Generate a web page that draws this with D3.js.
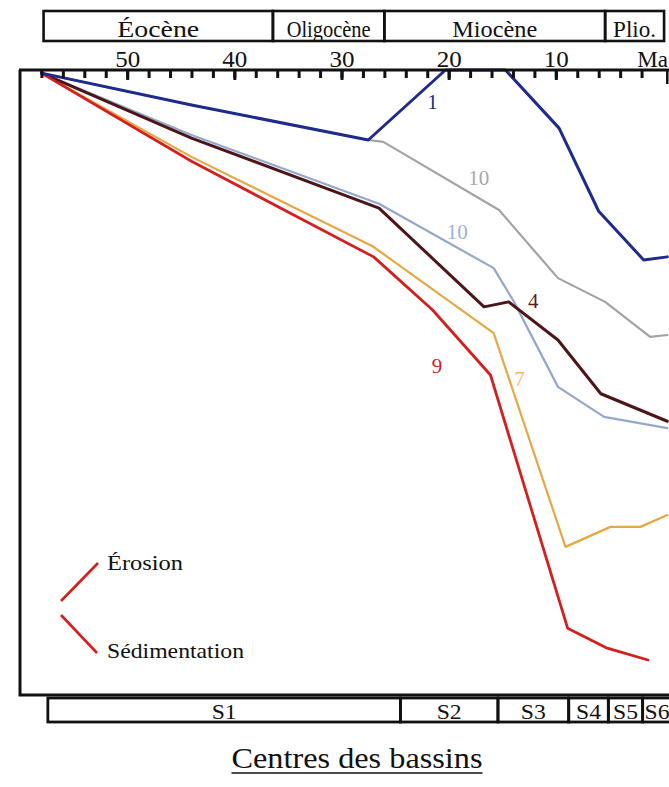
<!DOCTYPE html>
<html><head><meta charset="utf-8">
<script src="https://cdn.jsdelivr.net/npm/d3@7"></script>
<style>
html,body{margin:0;padding:0;background:#fff;}
svg{display:block;}
</style></head>
<body><svg id="c" width="669" height="787"></svg>
<script>
// ---- data (age in Ma, subsidence in relative units 0-100, downward) ----
const seriesNames = ["10a","10b","7","4","9","1"];
const ages10a = [58, 44.0, 27.5, 26.1, 15.3, 9.8, 5.4, 1.2, -0.4];
const vals10a = [0.5, 5.6, 11.2, 11.5, 22.4, 33.3, 37.1, 42.7, 42.4];
const ages10b = [58, 44.0, 26.5, 15.8, 13.9, 9.8, 5.5, -0.4];
const vals10b = [0.5, 10.4, 21.4, 31.7, 37.1, 50.7, 55.5, 57.3];
const ages7 = [58, 44.0, 27.1, 15.8, 9.1, 4.9, 2.1, -0.4];
const vals7 = [0.5, 13.9, 28.2, 42.1, 76.3, 73.1, 73.1, 71.2];
const ages4 = [58, 44.0, 26.5, 16.7, 14.4, 9.8, 5.8, -0.4];
const vals4 = [0.5, 10.9, 22.1, 37.9, 37.1, 43.2, 51.8, 56.2];
const ages9 = [58, 44.0, 27.0, 21.5, 16.1, 8.9, 5.2, 1.4];
const vals9 = [0.5, 14.6, 29.9, 38.4, 48.8, 89.3, 92.5, 94.4];
const ages1 = [58, 44.0, 27.5, 20.3, 14.7, 9.7, 6.0, 1.8, -0.4];
const vals1 = [0.5, 5.6, 11.2, 0, 0, 9.3, 22.6, 30.4, 29.9];

const labelTexts = ["1","10","10","4","9","7"];
const labelAges  = [21.5, 17.2, 19.2, 12.1, 21.1, 13.4];
const labelVals  = [5.1, 17.3, 25.9, 37.0, 47.4, 49.4];

const epochNames = ["Éocène","Oligocène","Miocène","Plio."];
const epochBounds = [57.8, 36.4, 26.0, 5.4, -0.1];
const seqNames = ["S1","S2","S3","S4","S5","S6"];
const seqBounds = [57.4, 24.5, 15.4, 8.8, 5.1, 1.9, -1.5];
const majorTicks = [50, 40, 30, 20, 10];
const minorTicks = d3.range(58, 1, -2);
const legendLabels = ["Érosion", "Sédimentation"];
const title = "Centres des bassins";

// ---- styles ----
const FONT = '"Liberation Serif", "Times New Roman", serif';
const colors = {"10a":"#a3a3a3","10b":"#93a8cc","7":"#e6a845","4":"#4d1518","9":"#d3201f","1":"#1e2b8c"};
const widths = {"10a":2.2,"10b":2.2,"7":2.2,"4":3,"9":2.8,"1":3};
const labelColors = ["#1e2b8c","#a8a8a8","#9cb0d2","#5a1a1c","#d3201f","#f0b860"];

const svg = d3.select("#c");
const x = d3.scaleLinear().domain([60, 0]).range([20, 663]);
const y = d3.scaleLinear().domain([0, 100]).range([70, 695]);
const xRight = x(-0.4);

const data = {
  "10a": d3.zip(ages10a, vals10a), "10b": d3.zip(ages10b, vals10b),
  "7": d3.zip(ages7, vals7), "4": d3.zip(ages4, vals4),
  "9": d3.zip(ages9, vals9), "1": d3.zip(ages1, vals1)
};

function txt(g, s, px, py, size, w, anchor){
  const t = g.append("text").attr("x",px).attr("y",py).style("font-family",FONT)
    .style("font-size",size+"px").attr("fill","#111").attr("text-anchor",anchor||"middle").text(s);
  if (w) t.attr("textLength",w).attr("lengthAdjust","spacingAndGlyphs");
  return t;
}

// epoch boxes (top)
const eg = svg.append("g");
const epochW = [82, 84, 85, 43];
epochNames.forEach((n,i)=>{
  const x0 = x(epochBounds[i]), x1 = x(epochBounds[i+1]);
  eg.append("rect").attr("x",x0).attr("y",11).attr("width",x1-x0).attr("height",30)
    .attr("fill","none").attr("stroke","#111").attr("stroke-width",2.6);
  txt(eg, n, (x0+x1)/2, 37, 23, epochW[i]);
});

// lines
const line = d3.line().x(d=>x(d[0])).y(d=>y(d[1]));
const lg = svg.append("g").attr("fill","none").attr("stroke-linejoin","round").attr("stroke-linecap","round");
seriesNames.forEach(s=>{
  lg.append("path").datum(data[s]).attr("d",line)
    .attr("stroke",colors[s]).attr("stroke-width",widths[s]);
});

// frame
svg.append("path")
  .attr("d",`M${x(60)},${y(0)}V${y(100)}H${xRight+3}`)
  .attr("fill","none").attr("stroke","#111").attr("stroke-width",3);
svg.append("line").attr("x1",x(60)-1).attr("x2",669).attr("y1",y(0)).attr("y2",y(0))
  .attr("stroke","#111").attr("stroke-width",3.2);
svg.append("line").attr("x1",xRight).attr("x2",xRight).attr("y1",y(0)).attr("y2",y(0)+14)
  .attr("stroke","#111").attr("stroke-width",2.5);

// axis
const minorAxis = d3.axisTop(x).tickValues(minorTicks).tickSize(-8).tickFormat("");
const majorAxis = d3.axisTop(x).tickValues(majorTicks).tickSize(-10).tickPadding(3).tickFormat(d3.format("d"));
const ga = svg.append("g").attr("transform",`translate(0,${y(0)})`).call(minorAxis);
const gb = svg.append("g").attr("transform",`translate(0,${y(0)})`).call(majorAxis);
[ga,gb].forEach(g=>{
  g.select(".domain").remove();
  g.selectAll(".tick line").attr("stroke","#111").attr("stroke-width",3);
  g.selectAll(".tick text").style("font-family",FONT).style("font-size","23px").attr("fill","#111")
    .attr("textLength",25).attr("lengthAdjust","spacingAndGlyphs");
});
txt(svg, "Ma", 668, y(0)-3, 23, null, "end");

// series labels
labelTexts.forEach((t,i)=>{
  svg.append("text").attr("x",x(labelAges[i])).attr("y",y(labelVals[i]))
    .attr("text-anchor","middle").attr("dominant-baseline","central").style("font-family",FONT)
    .style("font-size","21px").attr("fill",labelColors[i]).text(t);
});

// legend
const leg = svg.append("g");
leg.append("line").attr("x1",61).attr("y1",601).attr("x2",98).attr("y2",563)
  .attr("stroke","#d3201f").attr("stroke-width",2.6);
leg.append("line").attr("x1",61).attr("y1",615).attr("x2",97).attr("y2",653)
  .attr("stroke","#d3201f").attr("stroke-width",2.6);
txt(leg, legendLabels[0], 107, 570, 22, 76, "start");
txt(leg, legendLabels[1], 107, 658, 22, 137, "start");

// sequence boxes (bottom)
const sg = svg.append("g");
seqNames.forEach((n,i)=>{
  const x0 = x(seqBounds[i]), x1 = x(seqBounds[i+1]);
  sg.append("rect").attr("x",x0).attr("y",698).attr("width",x1-x0).attr("height",24)
    .attr("fill","none").attr("stroke","#111").attr("stroke-width",2.8);
  txt(sg, n, i===5 ? x0+2 : (x0+x1)/2, 719, 22, 25, i===5 ? "start" : "middle");
});

// title
txt(svg, title, 357, 768, 29, 251, "middle");
svg.append("line").attr("x1",357-125.5).attr("x2",357+125.5).attr("y1",773).attr("y2",773)
  .attr("stroke","#111").attr("stroke-width",1.6);
</script></body></html>
